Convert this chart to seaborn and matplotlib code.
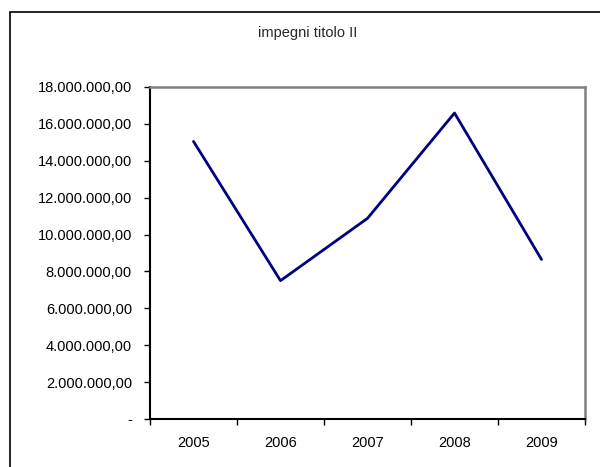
import matplotlib
matplotlib.use("Agg")
import matplotlib.pyplot as plt
import seaborn as sns
import pandas as pd
from matplotlib.patches import Rectangle

years = ["2005", "2006", "2007", "2008", "2009"]
values = [15050000, 7500000, 10880000, 16590000, 8650000]
yticks = [0, 2000000, 4000000, 6000000, 8000000, 10000000, 12000000, 14000000, 16000000, 18000000]
ytick_labels = ["-", "2.000.000,00", "4.000.000,00", "6.000.000,00", "8.000.000,00",
                "10.000.000,00", "12.000.000,00", "14.000.000,00", "16.000.000,00", "18.000.000,00"]
title = "impegni titolo II"

sns.set_theme(style="white")
plt.rcParams['font.family'] = ['Liberation Sans', 'DejaVu Sans']

df = pd.DataFrame({"pos": range(len(years)), "value": values})

fig = plt.figure(figsize=(6, 4.67), dpi=100)
W, H = 600, 467
ax = fig.add_axes([150 / W, 1 - 419 / H, (585 - 150) / W, (419 - 87) / H])

sns.lineplot(data=df, x="pos", y="value", ax=ax, color="#000080", linewidth=2)

ax.set_xlim(-0.5, len(years) - 0.5)
ax.set_ylim(0, 18000000)
ax.set_xlabel("")
ax.set_ylabel("")

ax.set_yticks(yticks)
ax.set_yticklabels(ytick_labels, fontsize=10.5, color="black")
ax.set_xticks([i - 0.5 for i in range(len(years) + 1)])
ax.set_xticklabels([""] * (len(years) + 1))
ax.set_xticks(range(len(years)), minor=True)
ax.set_xticklabels(years, minor=True, fontsize=10.5, color="black")
ax.tick_params(axis="x", which="major", direction="out", length=4, width=1, color="black", bottom=True)
ax.tick_params(axis="x", which="minor", length=0, pad=12, bottom=True)
ax.tick_params(axis="y", direction="out", length=4, width=1, color="black", left=True, pad=9)

for s in ["left", "bottom"]:
    ax.spines[s].set_color("black")
    ax.spines[s].set_linewidth(1.5)
for s in ["top", "right"]:
    ax.spines[s].set_color("#808080")
    ax.spines[s].set_linewidth(1.8)
    ax.spines[s].set_visible(True)

fig.text(308 / W, 1 - 33 / H, title, ha="center", va="center", fontsize=10.5)

fig.patches.append(Rectangle((9.5 / W, -0.1), 1.2, 1.1 - 12 / H, transform=fig.transFigure,
                             fill=False, edgecolor="black", linewidth=1.2, figure=fig))

fig.savefig("out.png", dpi=100)
